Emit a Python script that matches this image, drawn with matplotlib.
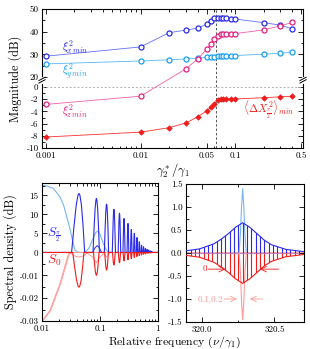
import numpy as np
import matplotlib
matplotlib.use("Agg")
import matplotlib.pyplot as plt
from matplotlib.patches import Polygon
from matplotlib.ticker import FixedLocator, FixedFormatter, NullFormatter, LogLocator

plt.rcParams["font.family"] = "serif"
plt.rcParams["font.serif"] = ["cmr10"]
plt.rcParams["mathtext.fontset"] = "cm"
plt.rcParams["axes.formatter.use_mathtext"] = True
plt.rcParams["axes.unicode_minus"] = False

# ---------------- top panel data
gamma = [0.001, 0.01, 0.02, 0.03, 0.04, 0.05, 0.055, 0.06, 0.065, 0.07, 0.075,
         0.08, 0.09, 0.1, 0.2, 0.3, 0.4]
xi_x = [29.2, 33.3, 39.6, 40.7, 41.6, 43.3, 44.8, 46.0, 46.2, 46.1, 46.0,
        45.9, 45.8, 45.6, 44.0, 42.9, 41.3]
xi_y = [25.8, 27.1, 27.6, 28.0, 28.4, 28.7, 28.9, 29.0, 29.1, 29.2, 29.3,
        29.3, 29.4, 29.5, 30.1, 30.5, 31.0]
gamma_z = [0.001, 0.01, 0.03, 0.04, 0.05, 0.055, 0.06, 0.065, 0.07, 0.075,
           0.08, 0.09, 0.1, 0.2, 0.3, 0.4]
xi_z = [-2.85, -1.5, 23.6, 27.9, 32.3, 34.5, 36.7, 38.3, 38.8, 38.9,
        39.0, 39.1, 39.2, 40.8, 42.6, 44.1]
dX = [-8.2, -7.4, -6.67, -5.9, -4.9, -3.9, -3.3, -2.8, -2.1, -2.0, -2.0,
      -2.0, -1.97, -1.95, -1.75, -1.6, -1.5]
gamma_c = 0.0625

# ---------------- bottom-left data
lb_x = [0.01, 0.0125, 0.0157, 0.0204, 0.0235, 0.0267, 0.03, 0.0325, 0.037, 0.042, 0.05, 1.0]
lb_y = [17.7, 17.4, 16.8, 14.6, 12.5, 9.4, 6.5, 4.1, 0.6, 0.05, 0.0, 0.0]
hump_x = [0.055, 0.065, 0.075, 0.085, 0.092, 0.1, 0.11, 0.125, 0.14]
hump_y = [0.0, 1.2, 3.5, 5.3, 5.6, 4.8, 3.0, 1.0, 0.0]
small_x = [0.075, 0.082, 0.09, 0.098, 0.106]
small_y = [0.0, 1.2, 1.8, 1.2, 0.0]
pk_x = [0.0434, 0.0868, 0.130, 0.174, 0.217, 0.260, 0.304, 0.347, 0.391, 0.434,
        0.477, 0.521, 0.564, 0.608, 0.651, 0.694, 0.738, 0.781]
pk_h = [15.5, 14.2, 12.7, 11.3, 10.3, 8.9, 7.6, 6.0, 5.0, 3.9,
        2.8, 1.9, 1.5, 1.05, 0.8, 0.6, 0.4, 0.3]
dip_d = [-0.0152, -0.0100, -0.0077, -0.0055, -0.0045, -0.0037, -0.0032, -0.0027,
         -0.0022, -0.0018, -0.0014, -0.0011, -0.0008, -0.0006, -0.0004, -0.0003,
         -0.0002, -0.0001]
s0_lb_x = [0.01, 0.0137, 0.0204, 0.0267, 0.029, 0.032, 1.0]
s0_lb_y = [-0.030, -0.0254, -0.0137, -0.0034, -0.0004, 0.0, 0.0]
s0_low_x = [0.03, 0.036, 0.044, 0.052, 0.06, 0.075, 0.087, 0.1, 0.115, 0.13, 0.15]
s0_low_y = [0.0, -0.0015, -0.002, -0.0015, -0.0003, -0.002, -0.0045, -0.002,
            -0.0005, -0.002, 0.0]

# ---------------- bottom-right data
env_x = [319.887, 319.98, 320.08, 320.13, 320.18, 320.23, 320.28, 320.33, 320.38,
         320.43, 320.48, 320.58, 320.706]
env_y = [0.05, 0.09, 0.20, 0.30, 0.42, 0.56, 0.66, 0.56, 0.42, 0.28, 0.18, 0.08, 0.03]
teeth_x = [319.92, 319.95, 319.98, 320.01, 320.04, 320.07, 320.10, 320.13, 320.16,
           320.19, 320.22, 320.25, 320.28, 320.31, 320.34, 320.37, 320.40, 320.43,
           320.46, 320.49, 320.52, 320.55, 320.58, 320.61, 320.64, 320.67]
spike_x = [320.255, 320.265, 320.272, 320.28, 320.288, 320.295, 320.305]
spike_y = [0.0, 0.45, 1.0, 1.4, 1.0, 0.45, 0.0]
spike_r = [0.0, -0.45, -1.05, -1.45, -1.05, -0.45, 0.0]

blue, lblue = "#2a2ae8", "#78b6f4"
red, lred = "#f01c1c", "#ff9a9a"
cyan, mag = "#1a9ff0", "#e0207f"

fig = plt.figure(figsize=(3.1, 3.49), dpi=100)
ax1 = fig.add_axes([0.1355, 0.576, 0.842, 0.398])
ax2 = fig.add_axes([0.1355, 0.0802, 0.374, 0.395])
ax3 = fig.add_axes([0.6, 0.0774, 0.381, 0.395])

for ax in (ax1, ax2, ax3):
    ax.tick_params(which="both", direction="in", top=True, right=True,
                   width=0.6, labelsize=6.5, pad=2.5)
    ax.tick_params(which="major", length=3.5)
    ax.tick_params(which="minor", length=1.8)
    for s in ax.spines.values():
        s.set_linewidth(0.8)

# ---------------- top panel, broken y axis via a piecewise scale
brk_v = [-100.0, 1.0, 19.0, 100.0]
brk_f = [-100.0, 1.0, 1.27, 1.27 + 81 * 0.372]


def fwd(v):
    return np.interp(v, brk_v, brk_f)


def inv(f):
    return np.interp(f, brk_f, brk_v)


ax1.set_xscale("log")
ax1.set_yscale("function", functions=(fwd, inv))
ax1.set_xlim(0.00091, 0.52)
ax1.set_ylim(-10, 50)
ax1.axhline(0, color="#b0b0b0", ls=(0, (2, 2)), lw=0.7)
ax1.axvline(gamma_c, color="#555555", ls=(0, (2.5, 2)), lw=0.7)

ax1.plot(gamma, xi_x, "-o", color="#6070ff", lw=0.6, ms=3.6, mew=0.9,
         mfc="white", mec=blue, zorder=3)
ax1.plot(gamma, xi_y, "-o", color="#55b8f8", lw=0.6, ms=3.6, mew=0.9,
         mfc="white", mec=cyan, zorder=3)
ax1.plot(gamma_z, xi_z, "-o", color="#f060a8", lw=0.6, ms=3.6, mew=0.9,
         mfc="white", mec=mag, zorder=3)
ax1.plot(gamma, dX, "-D", color="#ff3030", lw=0.6, ms=2.8, mew=0.5,
         mfc=red, mec=red, zorder=3)

ax1.xaxis.set_major_locator(FixedLocator([0.001, 0.01, 0.05, 0.1, 0.5]))
ax1.xaxis.set_major_formatter(FixedFormatter(["0.001", "0.01", "0.05", "0.1", "0.5"]))
ax1.xaxis.set_minor_locator(LogLocator(subs=np.arange(2, 10), numticks=20))
ax1.xaxis.set_minor_formatter(NullFormatter())
yt = [-10, -8, -6, -4, -2, 0, 20, 30, 40, 50]
ax1.yaxis.set_major_locator(FixedLocator(yt))
ax1.yaxis.set_major_formatter(FixedFormatter([str(v) for v in yt]))
ax1.yaxis.set_minor_locator(FixedLocator([-9, -7, -5, -3, -1, 25, 35, 45]))
ax1.yaxis.set_minor_formatter(NullFormatter())

yb = (fwd(10) + 10) / (fwd(50) + 10)
for x0 in (0, 1):
    ax1.plot([x0, x0], [yb - 0.012, yb + 0.012], color="white", lw=2,
             transform=ax1.transAxes, clip_on=False, zorder=5)
    for dy in (-0.009, 0.009):
        ax1.plot([x0 - 0.012, x0 + 0.012], [yb + dy - 0.012, yb + dy + 0.012],
                 color="k", lw=0.7, transform=ax1.transAxes, clip_on=False, zorder=6)

ax1.text(0.077, 0.723, r"$\xi^2_{x\,min}$", color=blue, fontsize=8,
         transform=ax1.transAxes, va="center")
ax1.text(0.077, 0.55, r"$\xi^2_{y\,min}$", color=cyan, fontsize=8,
         transform=ax1.transAxes, va="center")
ax1.text(0.077, 0.266, r"$\xi^2_{z\,min}$", color=mag, fontsize=8,
         transform=ax1.transAxes, va="center")
ax1.text(0.77, 0.273, r"$\langle\Delta X^2_{\frac{\pi}{2}}\rangle_{min}$", color=red,
         fontsize=8, transform=ax1.transAxes, va="center")
ax1.set_xlabel(r"$\gamma_2^*/\gamma_1$", fontsize=9, labelpad=1)
ax1.set_ylabel("Magnitude (dB)", fontsize=8.8, labelpad=3)

# ---------------- bottom left
shape_u = np.array([-1, -0.7, -0.4, -0.15, 0, 0.15, 0.4, 0.7, 1])
shape_v = np.array([0, 0.45, 0.81, 0.97, 1, 0.97, 0.81, 0.45, 0])


def comb(centers, heights, hw):
    xs, ys = [0.01], [0.0]
    for c, h in zip(centers, heights):
        xs.extend(c + hw * shape_u)
        ys.extend(h * shape_v)
    xs.append(1.0)
    ys.append(0.0)
    return xs, ys


def fwd2(v):
    v = np.asarray(v, dtype=float)
    return np.where(v < 0, v * 600, v)


def inv2(f):
    f = np.asarray(f, dtype=float)
    return np.where(f < 0, f / 600, f)


ax2.set_xscale("log")
ax2.set_yscale("function", functions=(fwd2, inv2))
ax2.set_xlim(0.01, 1)
ax2.set_ylim(-0.03, 18.2)

ax2.plot(lb_x, lb_y, color=lblue, lw=0.8)
ax2.plot(hump_x, hump_y, color=lblue, lw=0.8)
ax2.plot(s0_lb_x, s0_lb_y, color=lred, lw=0.8)
ax2.plot([x * 1.03 for x in s0_lb_x[:-1]], s0_lb_y[:-1], color=lred, lw=0.6)
ax2.plot(s0_low_x, s0_low_y, color=lred, lw=0.7)
px, py = comb(pk_x, pk_h, 0.011)
ax2.plot(px, py, color=blue, lw=0.8)
ax2.plot(small_x, small_y, color=blue, lw=0.7)
dx, dy_ = comb(pk_x, dip_d, 0.0095)
ax2.plot(dx, dy_, color=red, lw=0.8)

ax2.xaxis.set_major_locator(FixedLocator([0.01, 0.1, 1]))
ax2.xaxis.set_major_formatter(FixedFormatter(["0.01", "0.1", "1"]))
ax2.xaxis.set_minor_locator(LogLocator(subs=np.arange(2, 10), numticks=20))
ax2.xaxis.set_minor_formatter(NullFormatter())
yt2 = [-0.03, -0.02, -0.01, 0, 5, 10, 15]
ax2.yaxis.set_major_locator(FixedLocator(yt2))
ax2.yaxis.set_major_formatter(FixedFormatter(["-0.03", "-0.02", "-0.01", "0", "5", "10", "15"]))
ax2.yaxis.set_minor_locator(FixedLocator([-0.025, -0.015, -0.005, 2.5, 7.5, 12.5, 17.5]))
ax2.yaxis.set_minor_formatter(NullFormatter())
ax2.text(0.04, 0.625, r"$S_{\frac{\pi}{2}}$", color=blue, fontsize=9.5,
         transform=ax2.transAxes, va="center")
ax2.text(0.04, 0.44, r"$S_0$", color=red, fontsize=9.5,
         transform=ax2.transAxes, va="center")
ax2.set_ylabel("Spectral density (dB)", fontsize=8.8, labelpad=2)

# ---------------- bottom right
ax3.set_xlim(319.887, 320.706)
ax3.set_ylim(-1.5, 1.5)
ax3.axhline(0, color=lred, lw=1.2, zorder=1)
ax3.axhline(0, color="#9070e0", lw=0.4, zorder=1)

top_poly = Polygon(np.column_stack([env_x + [env_x[-1], env_x[0]], env_y + [0, 0]]),
                   closed=True, fc="none", ec="none", transform=ax3.transData)
bot_poly = Polygon(np.column_stack([env_x + [env_x[-1], env_x[0]],
                                    [-v for v in env_y] + [0, 0]]),
                   closed=True, fc="none", ec="none", transform=ax3.transData)
ax3.add_patch(top_poly)
ax3.add_patch(bot_poly)
vt = ax3.vlines(teeth_x, 0, 1.5, color=blue, lw=0.8, zorder=2)
vt.set_clip_path(top_poly)
vb = ax3.vlines(teeth_x, -1.5, 0, color=red, lw=0.8, zorder=2)
vb.set_clip_path(bot_poly)
ax3.plot(spike_x, spike_y, color=lblue, lw=0.8, zorder=3)
ax3.plot(spike_x, spike_r, color=lred, lw=0.8, zorder=3)
ax3.plot(env_x, env_y, color=blue, lw=0.8, zorder=4)
ax3.plot(env_x, [-v for v in env_y], color=red, lw=0.8, zorder=4)

arr = dict(arrowstyle="->", lw=0.6, shrinkA=0, shrinkB=0)
ax3.annotate("", xy=(320.16, -0.35), xytext=(320.04, -0.35),
             arrowprops=dict(arr, color=red))
ax3.annotate("", xy=(320.40, -0.35), xytext=(320.53, -0.35),
             arrowprops=dict(arr, color=red))
ax3.text(320.035, -0.35, "0", color=red, fontsize=6.5, ha="right", va="center")
ax3.annotate("", xy=(320.24, -1.0), xytext=(320.15, -1.0),
             arrowprops=dict(arr, color=lred))
ax3.annotate("", xy=(320.33, -1.0), xytext=(320.42, -1.0),
             arrowprops=dict(arr, color=lred))
ax3.text(320.145, -1.0, "0.1,0.2", color=lred, fontsize=6.5, ha="right", va="center")

ax3.xaxis.set_major_locator(FixedLocator([320.0, 320.5]))
ax3.xaxis.set_major_formatter(FixedFormatter(["320.0", "320.5"]))
ax3.xaxis.set_minor_locator(FixedLocator([320.25]))
yt3 = [-1.5, -1.0, -0.5, 0.0, 0.5, 1.0, 1.5]
ax3.yaxis.set_major_locator(FixedLocator(yt3))
ax3.yaxis.set_major_formatter(FixedFormatter(["%.1f" % v for v in yt3]))
ax3.yaxis.set_minor_locator(FixedLocator([-1.25, -0.75, -0.25, 0.25, 0.75, 1.25]))

fig.text(0.561, 0.018, r"Relative frequency $(\nu/\gamma_1)$", fontsize=8.5,
         ha="center", va="center")

fig.savefig("out.png", dpi=100)
